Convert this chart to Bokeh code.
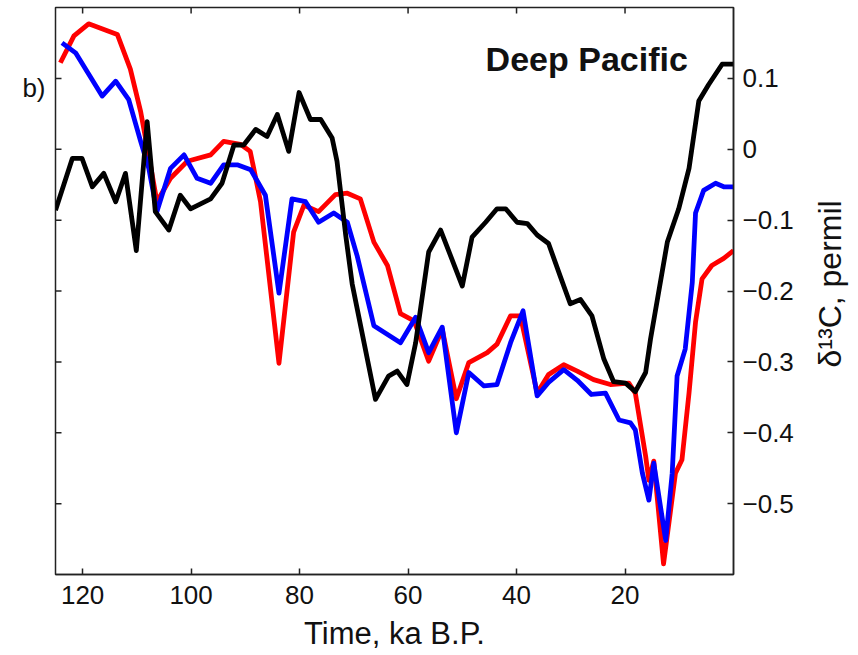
import math
from bokeh.plotting import figure
from bokeh.models import Range1d, FixedTicker, LinearAxis, Label
from bokeh.embed import file_html
from bokeh.resources import INLINE

# ---- data (time in ka B.P., d13C in permil) ----
red_t = [124.1, 121.6, 118.9, 113.6, 111.2, 109.3, 107.5, 106.3, 103.8, 100.7, 96.4, 94.0, 90.9, 89.1,
         87.2, 83.8, 81.1, 79.2, 76.5, 73.4, 71.2, 68.8, 66.3, 63.8, 61.4, 58.9, 56.2, 53.7, 51.1, 48.8,
         45.4, 43.6, 41.1, 39.3, 36.2, 34.1, 31.3, 28.8, 25.8, 22.7, 19.3, 18.1, 16.2, 15.6, 14.7, 12.9,
         10.7, 9.5, 8.2, 7.0, 5.8, 4.0, 1.8, 0.0]
red_v = [0.122, 0.160, 0.177, 0.162, 0.113, 0.053, -0.022, -0.074, -0.041, -0.017, -0.008, 0.011, 0.007, -0.003,
         -0.074, -0.302, -0.117, -0.079, -0.088, -0.064, -0.062, -0.070, -0.131, -0.164, -0.232, -0.242, -0.299,
         -0.254, -0.352, -0.301, -0.287, -0.275, -0.235, -0.235, -0.344, -0.318, -0.304, -0.313, -0.325, -0.332,
         -0.330, -0.344, -0.433, -0.467, -0.440, -0.585, -0.457, -0.438, -0.344, -0.244, -0.183, -0.164, -0.154,
         -0.143]

blue_t = [123.8, 121.3, 116.4, 113.9, 111.5, 109.3, 107.8, 106.3, 103.8, 101.3, 98.9, 96.4, 94.0, 91.5, 89.0,
          86.3, 83.8, 81.4, 78.9, 76.5, 73.7, 71.2, 69.4, 66.3, 61.4, 58.6, 56.2, 53.7, 51.1, 48.8, 46.0, 43.6,
          41.1, 38.8, 36.2, 34.1, 31.3, 28.8, 26.2, 23.6, 21.1, 19.0, 18.1, 16.8, 15.6, 14.7, 12.5, 11.3, 10.4,
          8.9, 7.6, 7.0, 5.5, 3.3, 1.8, 0.0]
blue_v = [0.150, 0.136, 0.075, 0.096, 0.070, 0.011, -0.027, -0.088, -0.027, -0.008, -0.041, -0.048, -0.022,
          -0.022, -0.029, -0.065, -0.203, -0.070, -0.074, -0.103, -0.090, -0.103, -0.150, -0.249, -0.273, -0.237,
          -0.287, -0.251, -0.400, -0.315, -0.334, -0.332, -0.273, -0.228, -0.348, -0.329, -0.311, -0.326, -0.346,
          -0.344, -0.382, -0.386, -0.396, -0.457, -0.495, -0.443, -0.552, -0.457, -0.320, -0.282, -0.188, -0.090,
          -0.058, -0.048, -0.053, -0.053]

black_t = [125.0, 121.9, 120.1, 118.2, 116.1, 113.9, 112.1, 110.1, 108.1, 106.6, 104.1, 102.0, 100.1, 96.4,
           94.3, 92.1, 90.3, 88.1, 86.0, 84.1, 82.0, 80.1, 78.0, 76.1, 74.0, 73.1, 71.5, 70.3, 66.0, 63.6, 62.0,
           60.2, 58.6, 56.2, 54.0, 50.0, 48.2, 45.7, 43.6, 42.0, 39.9, 38.0, 36.2, 34.1, 31.9, 30.1, 28.2, 26.1,
           23.9, 22.1, 19.9, 18.1, 16.2, 15.3, 12.2, 10.1, 8.2, 6.4, 4.6, 2.1, 0.0]
black_v = [-0.086, -0.013, -0.013, -0.053, -0.034, -0.074, -0.034, -0.143, 0.039, -0.088, -0.114, -0.065, -0.084,
           -0.070, -0.048, 0.006, 0.006, 0.028, 0.018, 0.049, -0.003, 0.080, 0.042, 0.042, 0.016, -0.017, -0.121,
           -0.190, -0.353, -0.320, -0.313, -0.332, -0.273, -0.145, -0.114, -0.193, -0.124, -0.103, -0.084, -0.084,
           -0.103, -0.105, -0.121, -0.133, -0.180, -0.218, -0.212, -0.235, -0.296, -0.328, -0.330, -0.342, -0.315,
           -0.268, -0.131, -0.084, -0.027, 0.068, 0.091, 0.120, 0.120]

x_ticks = [20, 40, 60, 80, 100, 120]
y_ticks = [-0.5, -0.4, -0.3, -0.2, -0.1, 0.0, 0.1]
y_tick_labels = ["\u22120.5", "\u22120.4", "\u22120.3", "\u22120.2", "\u22120.1", "0", "0.1"]

X_RANGE = (125, 0)
Y_RANGE = (-0.6, 0.2)
PANEL_TAG = "b)"
PANEL_TAG_Y = 0.087
Y_LABEL = "\u03b4\u00b9\u00b3C, permil"

FONT = "Liberation Sans"
INK = "#111111"
AX = "#222222"

p = figure(width=858, height=655, output_backend="svg", toolbar_location=None,
           x_range=Range1d(*X_RANGE), y_range=Range1d(*Y_RANGE),
           x_axis_location="below", y_axis_location="right",
           min_border_left=55, min_border_right=125, min_border_top=7, min_border_bottom=81,
           background_fill_color="white", border_fill_color="white")
p.grid.visible = False
p.outline_line_color = AX
p.outline_line_width = 1.5

# left side: only the panel tag "b)" as a horizontal label
left_ax = LinearAxis(ticker=FixedTicker(ticks=[PANEL_TAG_Y]),
                     major_label_overrides={PANEL_TAG_Y: PANEL_TAG})
p.add_layout(left_ax, "left")
left_ax.axis_line_color = None
left_ax.major_tick_line_color = None
left_ax.major_tick_in = 0
left_ax.major_tick_out = 0
left_ax.minor_tick_line_color = None
left_ax.major_label_standoff = 10

for ax in (p.below[0], p.right[0], left_ax):
    ax.major_label_text_font = FONT
    ax.major_label_text_font_size = "26px"
    ax.major_label_text_color = INK

for ax in (p.below[0], p.right[0]):
    ax.major_tick_in = 6
    ax.major_tick_out = 0
    ax.minor_tick_line_color = None
    ax.axis_line_color = AX
    ax.axis_line_width = 1.5
    ax.major_tick_line_color = AX
    ax.major_tick_line_width = 1.5

xa = p.below[0]
xa.ticker = FixedTicker(ticks=x_ticks)
xa.major_label_standoff = 11
xa.axis_label = "Time, ka B.P."
xa.axis_label_text_font = FONT
xa.axis_label_text_font_size = "31px"
xa.axis_label_text_font_style = "normal"
xa.axis_label_text_color = INK
xa.axis_label_standoff = 9

ya = p.right[0]
ya.ticker = FixedTicker(ticks=y_ticks)
ya.major_label_overrides = dict(zip(y_ticks, y_tick_labels))
ya.major_label_standoff = 9

# y-axis title: rotated label placed in the right side panel (outside the frame, unclipped)
p.add_layout(Label(x=-17.7, y=-0.19, text=Y_LABEL, text_font=FONT, text_font_size="32px",
                   angle=math.pi / 2, text_align="center", text_baseline="middle",
                   text_color=INK), "right")

# inward tick marks on the mirrored (left / top) frame edges, at the tick values
p.scatter(x=[X_RANGE[0]] * len(y_ticks), y=y_ticks, marker="dash", size=12,
          line_color=AX, line_width=1.5)
p.scatter(x=x_ticks, y=[Y_RANGE[1]] * len(x_ticks), marker="dash", size=12, angle=math.pi / 2,
          line_color=AX, line_width=1.5)

lw = 4.8
p.line(red_t, red_v, line_color="#ff0000", line_width=lw, line_join="round")
p.line(blue_t, blue_v, line_color="#0000ff", line_width=lw, line_join="round")
p.line(black_t, black_v, line_color="#000000", line_width=lw, line_join="round")

p.add_layout(Label(x=45.7, y=0.127, text="Deep Pacific", text_font=FONT, text_font_size="34px",
                   text_font_style="bold", text_align="left", text_baseline="alphabetic",
                   text_color=INK))

open("out.html", "w").write(file_html(p, INLINE))
